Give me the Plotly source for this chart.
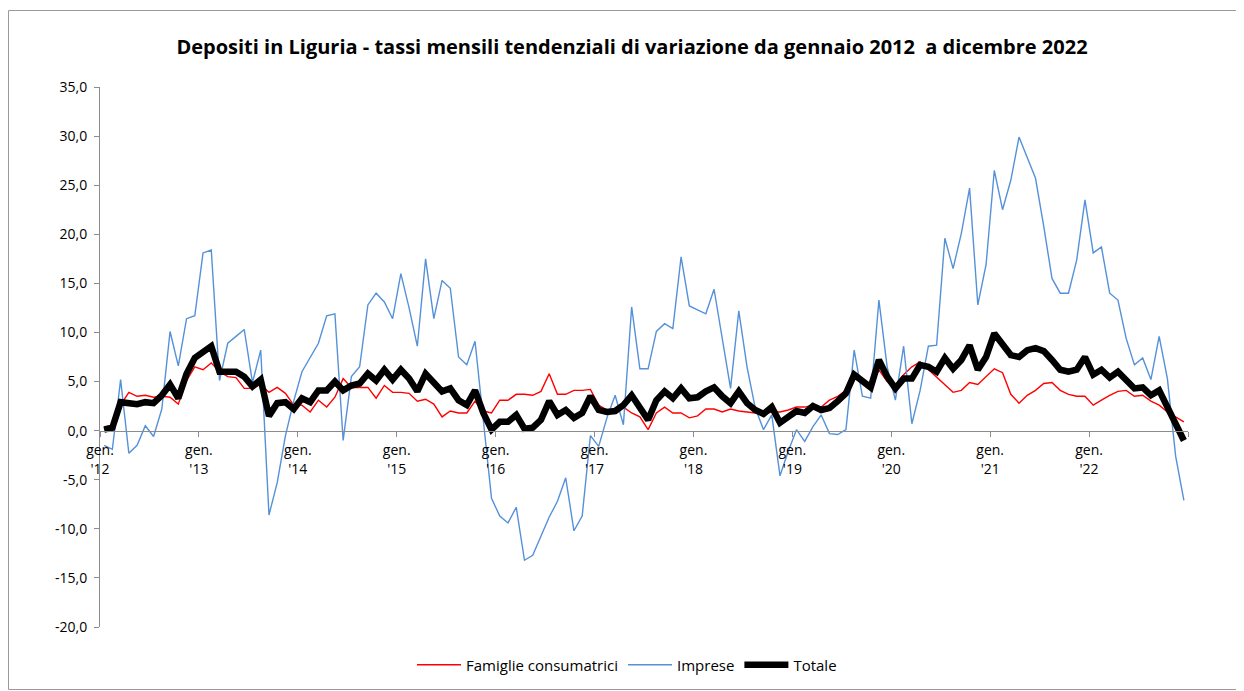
import numpy as np
import pandas as pd
import plotly.graph_objects as go

# Months: January 2012 .. December 2022
months = pd.date_range("2012-01-01", periods=132, freq="MS").strftime("%Y-%m").tolist()

famiglie = [
    0.4, 0.5, 2.6, 3.9, 3.5, 3.6, 3.4, 3.5, 3.4, 2.7, 5.1, 6.5,
    6.2, 6.9, 6.0, 5.5, 5.4, 4.3, 4.3, 4.7, 3.9, 4.4, 3.8, 2.6,
    2.6, 1.9, 3.1, 2.4, 3.4, 5.3, 4.4, 4.4, 4.4, 3.3, 4.6, 3.9,
    3.9, 3.8, 3.0, 3.2, 2.7, 1.4, 2.0, 1.8, 1.8, 3.0, 2.0, 1.8,
    3.1, 3.1, 3.7, 3.7, 3.6, 4.0, 5.8, 3.7, 3.7, 4.1, 4.1, 4.2,
    2.6, 2.1, 2.1, 2.4, 1.8, 1.4, 0.1, 1.8, 2.4, 1.8, 1.8, 1.3,
    1.5, 2.2, 2.2, 1.9, 2.2, 2.0, 1.9, 1.8, 1.7, 1.9, 1.9, 2.1,
    2.4, 2.4, 2.6, 2.4, 3.1, 3.5, 4.1, 5.3, 5.0, 4.5, 6.2, 5.0,
    4.5, 5.7, 6.5, 7.0, 6.2, 5.5, 4.7, 3.9, 4.1, 4.9, 4.7, 5.5,
    6.3, 5.9, 3.7, 2.8, 3.6, 4.1, 4.8, 4.9, 4.1, 3.7, 3.5, 3.5,
    2.6, 3.1, 3.6, 4.0, 4.1, 3.5, 3.6, 3.0, 2.6, 1.9, 1.4, 0.9,
]

imprese = [
    -1.5, -1.9, 5.2, -2.3, -1.5, 0.5, -0.6, 2.2, 10.1, 6.6, 11.4, 11.7,
    18.1, 18.4, 5.1, 8.9, 9.6, 10.3, 4.9, 8.2, -8.6, -5.3, -0.5, 3.0,
    6.0, 7.5, 8.9, 11.7, 11.9, -1.0, 5.5, 6.5, 12.8, 14.0, 13.1, 11.4,
    16.0, 12.5, 8.6, 17.5, 11.4, 15.3, 14.5, 7.5, 6.7, 9.1, 1.0, -6.9,
    -8.7, -9.4, -7.8, -13.2, -12.7, -10.8, -8.8, -7.2, -4.8, -10.2, -8.7, -0.5,
    -1.6, 1.3, 3.6, 0.6, 12.6, 6.3, 6.3, 10.1, 10.9, 10.4, 17.7, 12.7,
    12.3, 11.9, 14.4, 9.2, 4.3, 12.2, 6.5, 2.3, 0.1, 1.6, -4.6, -2.1,
    0.1, -1.1, 0.4, 1.6, -0.3, -0.4, 0.1, 8.2, 3.5, 3.3, 13.3, 6.5,
    3.1, 8.6, 0.7, 4.1, 8.6, 8.7, 19.6, 16.5, 20.1, 24.7, 12.8, 16.9,
    26.5, 22.5, 25.5, 29.9, 27.8, 25.7, 20.8, 15.5, 14.0, 14.0, 17.4, 23.5,
    18.1, 18.7, 14.0, 13.3, 9.4, 6.7, 7.4, 5.2, 9.6, 5.3, -2.6, -7.1,
]

totale = [
    0.1, 0.3, 2.9, 2.8, 2.7, 2.9, 2.8, 3.6, 4.7, 3.3, 5.8, 7.4,
    8.0, 8.6, 6.0, 6.0, 6.0, 5.5, 4.5, 5.2, 1.5, 2.8, 2.9, 2.2,
    3.3, 2.9, 4.1, 4.1, 5.0, 4.1, 4.6, 4.8, 5.8, 5.1, 6.2, 5.2,
    6.2, 5.3, 4.0, 5.8, 4.8, 4.0, 4.3, 3.1, 2.6, 4.1, 1.8, 0.1,
    0.9, 0.9, 1.6, 0.2, 0.3, 1.1, 3.0, 1.6, 2.1, 1.3, 1.8, 3.5,
    2.1, 1.9, 2.0, 2.6, 3.6, 2.3, 1.1, 3.1, 4.0, 3.3, 4.3, 3.3,
    3.4, 4.0, 4.4, 3.5, 2.8, 4.0, 2.8, 2.1, 1.7, 2.4, 0.8, 1.4,
    2.0, 1.8, 2.5, 2.1, 2.3, 3.0, 3.8, 5.7, 5.0, 4.4, 7.2, 5.5,
    4.3, 5.3, 5.3, 6.7, 6.5, 6.0, 7.4, 6.3, 7.2, 8.7, 6.2, 7.5,
    9.9, 8.9, 7.7, 7.5, 8.2, 8.4, 8.1, 7.2, 6.2, 6.0, 6.2, 7.5,
    5.7, 6.2, 5.4, 6.0, 5.2, 4.3, 4.4, 3.6, 4.1, 2.4, 0.6, -1.0,
]

year_labels = ["gen.<br>'12", "gen.<br>'13", "gen.<br>'14", "gen.<br>'15", "gen.<br>'16",
               "gen.<br>'17", "gen.<br>'18", "gen.<br>'19", "gen.<br>'20", "gen.<br>'21",
               "gen.<br>'22", ""]
y_ticks = [-20, -15, -10, -5, 0, 5, 10, 15, 20, 25, 30, 35]
y_tick_text = ["-20,0", "-15,0", "-10,0", "-5,0", "0,0", "5,0", "10,0", "15,0",
               "20,0", "25,0", "30,0", "35,0"]

x_idx = np.arange(len(months))
x_tickvals = [i - 0.5 for i in range(0, len(months) + 1, 12)]

FONT = "Open Sans"
AXIS_GREY = "#8c8c8c"

fig = go.Figure()
fig.add_trace(go.Scatter(x=x_idx, y=famiglie, mode="lines", name="Famiglie consumatrici",
                         line=dict(color="#ff0000", width=1.4), customdata=months,
                         hovertemplate="%{customdata}: %{y:.1f}<extra></extra>"))
fig.add_trace(go.Scatter(x=x_idx, y=imprese, mode="lines", name="Imprese",
                         line=dict(color="#5591d9", width=1.4), customdata=months,
                         hovertemplate="%{customdata}: %{y:.1f}<extra></extra>"))
fig.add_trace(go.Scatter(x=x_idx, y=totale, mode="lines", name="Totale",
                         line=dict(color="#000000", width=6.5), customdata=months,
                         hovertemplate="%{customdata}: %{y:.1f}<extra></extra>"))

# The page body adds an 8px offset; all page-pixel targets are shifted by it.
OFF = 8
W, H = 1244 - OFF, 691 - OFF
L, T = 100 - OFF, 87 - OFF
R = W - (1188 - OFF)
B = H - (627 - OFF)
pw, ph = W - L - R, H - T - B

def px_to_paper_x(px):
    return (px - OFF - L) / pw

def px_to_paper_y(py):
    return (H - B - (py - OFF)) / ph

fig.update_layout(
    width=W, height=H,
    margin=dict(l=L, r=R, t=T, b=B, autoexpand=False),
    paper_bgcolor="white", plot_bgcolor="white",
    font=dict(family=FONT, size=14, color="#000000"),
    title=dict(text="<b>Depositi in Liguria - tassi mensili tendenziali di variazione da gennaio 2012  a dicembre 2022</b>",
               x=(632 - OFF) / W, xref="container", xanchor="center",
               y=1 - (47 - OFF) / H, yref="container", yanchor="middle",
               font=dict(family=FONT, size=20, color="#000000")),
    xaxis=dict(range=[-0.5, len(months) - 0.5], tickmode="array", tickvals=x_tickvals,
               ticktext=year_labels, showgrid=False, zeroline=False,
               showline=True, linecolor=AXIS_GREY, linewidth=1,
               ticks="outside", ticklen=5, tickcolor=AXIS_GREY,
               anchor="free", position=(0 - (-20)) / 55, ticklabelstandoff=2,
               tickfont=dict(family=FONT, size=14)),
    yaxis=dict(range=[-20, 35], tickmode="array", tickvals=y_ticks, ticktext=y_tick_text,
               showgrid=False, zeroline=False, showline=True, linecolor=AXIS_GREY,
               linewidth=1, ticks="outside", ticklen=5, tickcolor=AXIS_GREY,
               ticklabelstandoff=4, tickfont=dict(family=FONT, size=14)),
    legend=dict(orientation="h", x=(627 - OFF) / W, xanchor="center", xref="container",
                y=1 - (665 - OFF) / H, yref="container", yanchor="middle",
                font=dict(family=FONT, size=15), itemwidth=44,
                bgcolor="rgba(0,0,0,0)"),
    showlegend=True,
    shapes=[dict(type="rect", xref="paper", yref="paper",
                 x0=px_to_paper_x(OFF + 0.5), x1=px_to_paper_x(1240.5),
                 y0=px_to_paper_y(689.5), y1=px_to_paper_y(10.5),
                 line=dict(color="#9a9a9a", width=1), fillcolor="rgba(0,0,0,0)",
                 layer="below")],
)

fig.write_html("out.html")
